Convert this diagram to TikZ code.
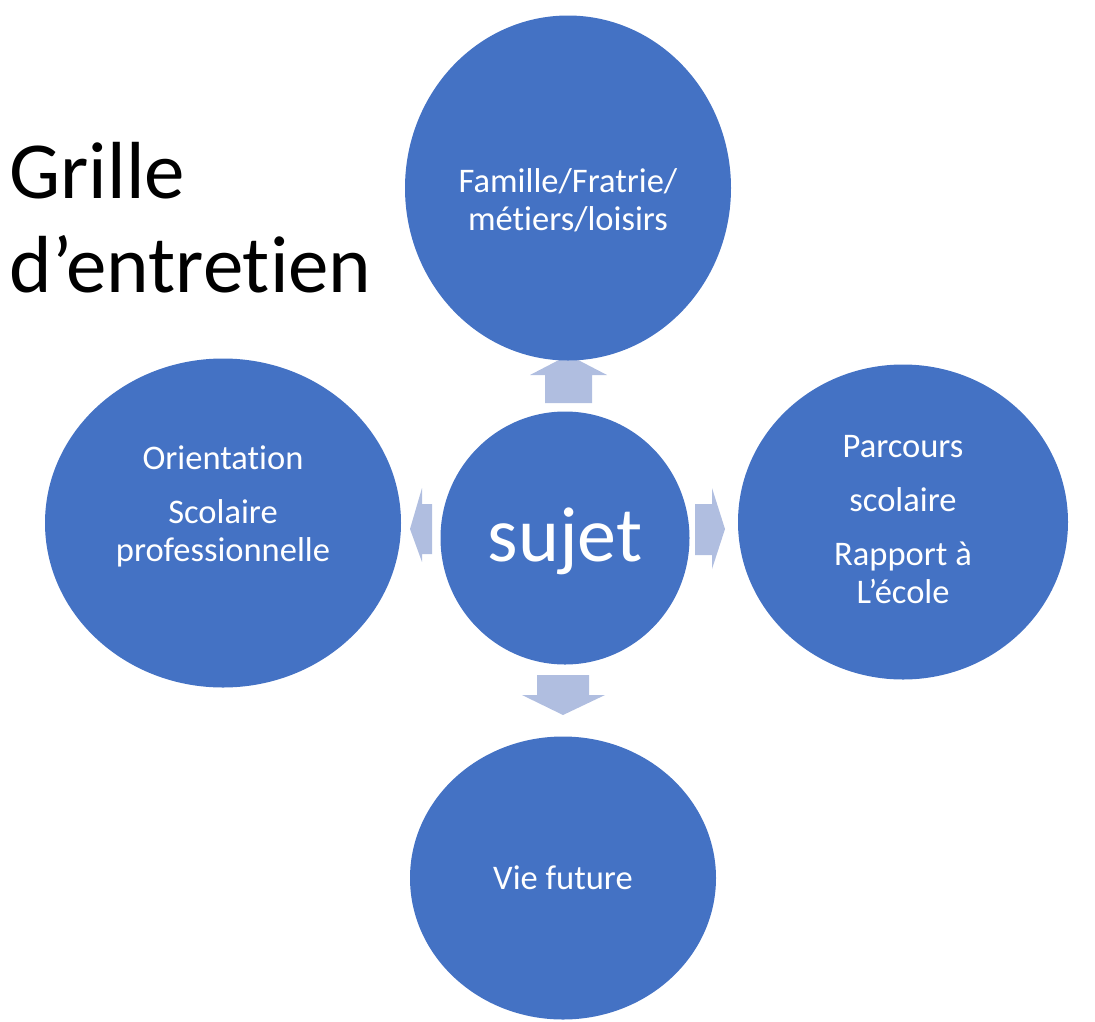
\documentclass[tikz,border=0pt]{standalone}
\usepackage{fontspec}
\setmainfont{Carlito}[Ligatures=NoCommon]
\usetikzlibrary{shapes.geometric}
\definecolor{bulle}{HTML}{4472C4}
\definecolor{fleche}{HTML}{B0BEE0}
\tikzset{
	bulle/.style={ellipse,fill=bulle,draw=none,inner sep=0pt},
	texte/.style={text=white,align=center,font=\fontsize{34.5}{38}\selectfont},
	fleche/.style={fill=fleche,draw=none}
}
\begin{document}
\begin{tikzpicture}[x=1pt,y=-1pt]
		\useasboundingbox (0,0) rectangle (1095,1021);
		% fleches (sous les bulles)
		\fill[fleche] (545,403)--(592,403)--(592,375)--(607,375)--(568.5,355)--(530,375)--(545,375)--cycle;
		\fill[fleche] (537,675)--(589,675)--(589,695)--(605,695)--(563,715)--(522,695)--(537,695)--cycle;
		\fill[fleche] (432,504)--(432,554)--(422,554)--(422,562)--(410,529)--(422,488)--(422,504)--cycle;
		\fill[fleche] (695,504)--(712,504)--(712,488)--(725,529)--(712,569)--(712,555)--(695,555)--cycle;
		% bulles
		\node[bulle,minimum width=326pt,minimum height=345pt] (famille) at (568,188) {};
		\node[bulle,minimum width=356pt,minimum height=329pt] (orientation) at (223,523) {};
		\node[bulle,minimum width=330pt,minimum height=315pt] (parcours) at (903,522) {};
		\node[bulle,minimum width=306pt,minimum height=283pt] (vie) at (563,878) {};
		\node[bulle,minimum width=249pt,minimum height=253pt] (sujet) at (565,538) {};
		% textes
		\node[texte] (famille-t) at (famille) [yshift=-12pt] {Famille/Fratrie/\\m\'etiers/loisirs};
		\node[texte] (orientation-t) at (orientation) [yshift=17pt] {Orientation\\[16pt]Scolaire\\professionnelle};
		\node[texte] (parcours-t) at (parcours) [yshift=2pt] {Parcours\\[16pt]scolaire\\[16pt]Rapport \`a\\L\textquoteright\'ecole};
		\node[texte] (vie-t) at (vie) {Vie future};
		\node[text=white,font=\fontsize{78}{86}\selectfont] (sujet-t) at (sujet) [yshift=-3pt] {sujet};
		\node[anchor=base west,align=left,font=\fontsize{81}{94}\selectfont] (titre) at (6,292) {Grille\\d\textquoteright entretien};
\end{tikzpicture}
\end{document}
